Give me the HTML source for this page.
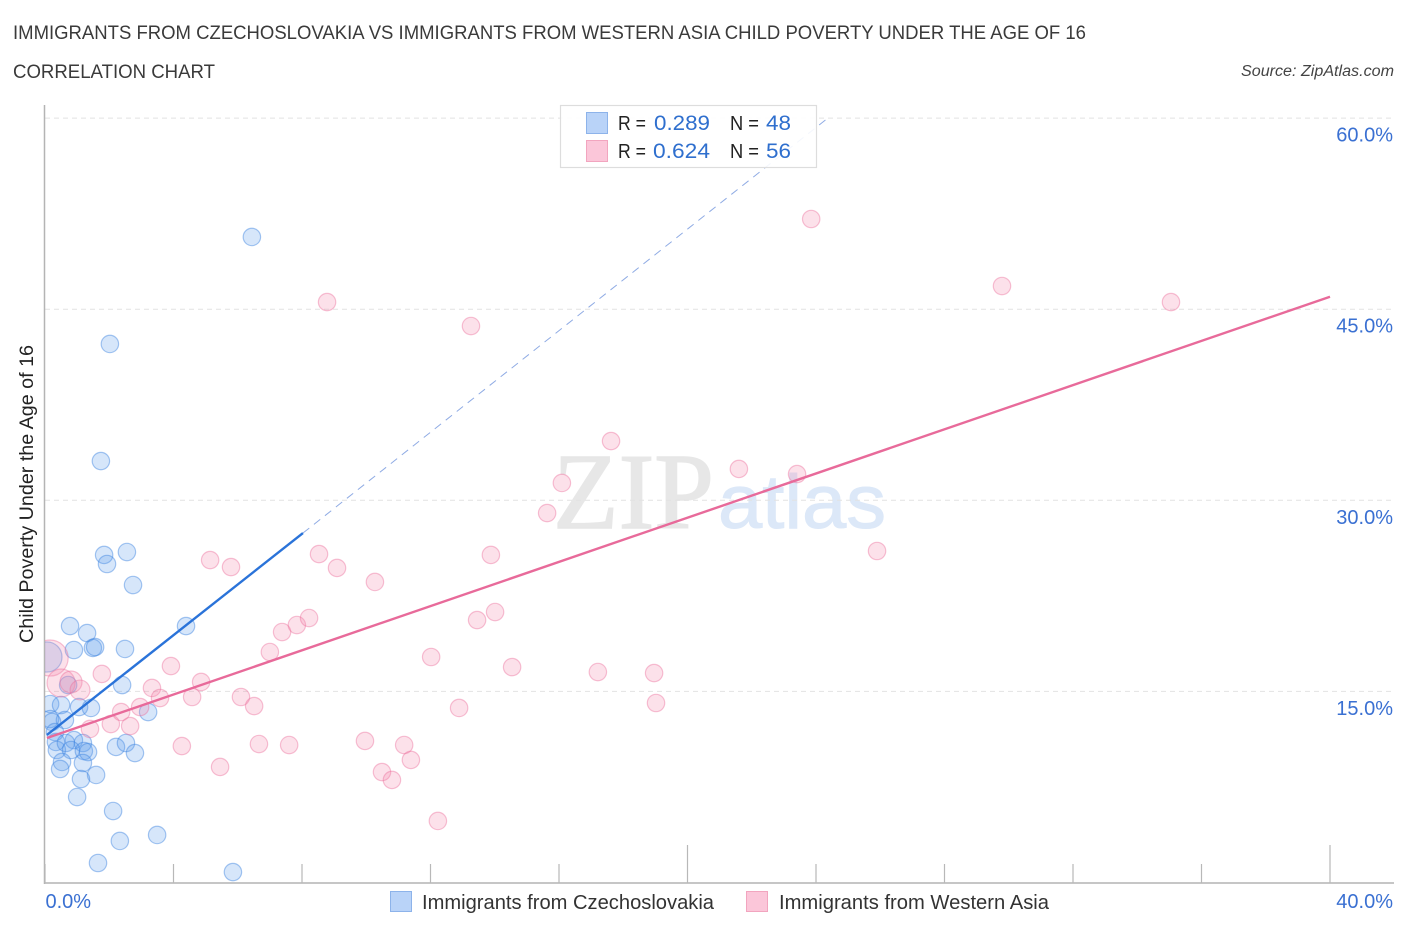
<!DOCTYPE html>
<html lang="en">
<head>
<meta charset="utf-8">
<title>Immigrants from Czechoslovakia vs Immigrants from Western Asia Child Poverty Under the Age of 16</title>
<style>
html,body{margin:0;padding:0;background:#fff;width:1406px;height:930px;overflow:hidden}
svg{display:block}
text{font-family:"Liberation Sans",sans-serif}
</style>
</head>
<body>
<svg id="chart" xmlns="http://www.w3.org/2000/svg" width="1406" height="930" viewBox="0 0 1406 930">
  <defs><clipPath id="plot-clip"><rect x="45" y="100" width="1360" height="783"/></clipPath></defs>
  <text x="13" y="39" font-size="19" fill="#3a3a3a" textLength="1073" lengthAdjust="spacingAndGlyphs">IMMIGRANTS FROM CZECHOSLOVAKIA VS IMMIGRANTS FROM WESTERN ASIA CHILD POVERTY UNDER THE AGE OF 16</text>
  <text x="13" y="78" font-size="19" fill="#3a3a3a" textLength="202" lengthAdjust="spacingAndGlyphs">CORRELATION CHART</text>
  <text x="1241" y="76" font-size="15.5" font-style="italic" fill="#444" textLength="153" lengthAdjust="spacingAndGlyphs">Source: ZipAtlas.com</text>
  <text transform="translate(33,494) rotate(-90)" font-size="19" fill="#222" text-anchor="middle" textLength="298" lengthAdjust="spacingAndGlyphs">Child Poverty Under the Age of 16</text>
  <g id="watermark">
    <text x="553" y="528" font-size="108" fill="#e7e7e7" stroke="#e7e7e7" stroke-width="1.5" style="font-family:'Liberation Serif',serif" textLength="161" lengthAdjust="spacingAndGlyphs">ZIP</text>
    <text x="718" y="528" font-size="76" fill="#dce8f8" stroke="#dce8f8" stroke-width="1" style="font-family:'Liberation Sans',sans-serif" textLength="168" lengthAdjust="spacingAndGlyphs">atlas</text>
  </g>
  <g id="grid"></g>
  <g id="axes"></g>
  <g id="points" clip-path="url(#plot-clip)"></g>
  <g id="trends"></g>
  <g>
    <rect x="560.5" y="105.5" width="256" height="62" fill="#fff" fill-opacity="0.9" stroke="#ddd" stroke-width="1.2"/>
    <rect x="586.5" y="112.5" width="21" height="21" fill="#b9d3f8" stroke="#8db3ea"/>
    <rect x="586.5" y="140.5" width="21" height="21" fill="#fbc6d9" stroke="#f2a5bf"/>
    <text x="618" y="130" font-size="20" fill="#222" textLength="28" lengthAdjust="spacingAndGlyphs">R =</text>
    <text x="654" y="130" font-size="21" fill="#2f6fce" textLength="56" lengthAdjust="spacingAndGlyphs">0.289</text>
    <text x="730" y="130" font-size="20" fill="#222" textLength="29" lengthAdjust="spacingAndGlyphs">N =</text>
    <text x="766" y="130" font-size="21" fill="#2f6fce" textLength="25" lengthAdjust="spacingAndGlyphs">48</text>
    <text x="618" y="158" font-size="20" fill="#222" textLength="28" lengthAdjust="spacingAndGlyphs">R =</text>
    <text x="653" y="158" font-size="21" fill="#2f6fce" textLength="57" lengthAdjust="spacingAndGlyphs">0.624</text>
    <text x="730" y="158" font-size="20" fill="#222" textLength="29" lengthAdjust="spacingAndGlyphs">N =</text>
    <text x="766" y="158" font-size="21" fill="#2f6fce" textLength="25" lengthAdjust="spacingAndGlyphs">56</text>
  </g>
  <g>
    <rect x="390.5" y="891.5" width="21" height="20" fill="#b9d3f8" stroke="#8db3ea"/>
    <text x="422" y="909" font-size="20" fill="#333" textLength="292" lengthAdjust="spacingAndGlyphs">Immigrants from Czechoslovakia</text>
    <rect x="746.5" y="891.5" width="21" height="20" fill="#fbc6d9" stroke="#f2a5bf"/>
    <text x="779" y="909" font-size="20" fill="#333" textLength="270" lengthAdjust="spacingAndGlyphs">Immigrants from Western Asia</text>
  </g>
</svg>
<script>
const xTicks = [0, 4, 8, 12, 16, 20, 24, 28, 32, 36, 40];
const xMajorTicks = [20, 40];
const xTickLabels = ['0.0%', '40.0%'];
const yTicks = [15, 30, 45, 60];
const yTickLabels = ['15.0%', '30.0%', '45.0%', '60.0%'];

const blueX = [6.44,2.02,1.74,1.84,2.55,1.93,2.74,0.78,1.31,0.90,1.49,1.56,2.49,4.39,0.06,0.72,2.40,0.16,0.50,1.06,1.43,3.21,0.16,0.62,0.22,0.31,0.34,0.37,0.90,0.65,1.18,0.81,1.21,1.34,0.53,0.47,1.18,1.59,1.12,1.00,2.12,2.33,3.49,1.65,5.85,2.21,2.52,2.80];
const blueY = [50.67,42.27,33.08,25.71,25.94,25.00,23.35,20.13,19.58,18.25,18.41,18.48,18.33,20.13,17.70,15.50,15.50,14.01,13.93,13.77,13.70,13.38,12.83,12.75,12.60,11.81,11.03,10.40,11.18,10.95,10.95,10.40,10.32,10.24,9.46,8.91,9.38,8.44,8.12,6.71,5.61,3.26,3.73,1.53,0.82,10.64,10.95,10.16];
const blueWeight = [1,1,1,1,1,1,1,1,1,1,1,1,1,1,3,1,1,1,1,1,1,1,1,1,1,1,1,1,1,1,1,1,1,1,1,1,1,1,1,1,1,1,1,1,1,1,1,1];

const pinkX = [23.85,8.78,13.26,29.79,35.05,17.62,21.60,23.41,16.09,15.63,25.90,13.88,8.53,5.14,5.79,9.09,10.27,14.01,13.45,12.02,14.54,17.21,18.96,19.02,12.89,9.96,11.18,11.39,10.49,10.80,12.23,0.16,0.50,0.81,1.09,1.77,3.92,3.33,4.86,3.58,4.58,6.10,6.51,2.96,2.37,2.05,2.65,1.40,4.26,5.45,6.66,7.60,7.00,7.38,7.84,8.22];
const pinkY = [52.08,45.56,43.68,46.82,45.56,34.65,32.46,32.06,31.36,29.00,26.02,25.71,25.78,25.31,24.76,24.69,23.59,21.23,20.60,17.70,16.91,16.52,16.44,14.09,13.70,11.11,10.79,9.62,8.67,8.05,4.83,17.62,15.66,15.74,15.11,16.37,16.99,15.27,15.74,14.48,14.56,14.56,13.85,13.77,13.38,12.44,12.28,12.05,10.71,9.07,10.87,10.79,18.09,19.66,20.21,20.76];
const pinkWeight = [1,1,1,1,1,1,1,1,1,1,1,1,1,1,1,1,1,1,1,1,1,1,1,1,1,1,1,1,1,1,1,4.3,2.6,1.6,1.3,1,1,1,1,1,1,1,1,1,1,1,1,1,1,1,1,1,1,1,1,1];

const blueTrendX = [0.06, 8.03];
const blueTrendY = [11.58, 27.43];
const blueForecastX = [8.03, 24.37];
const blueForecastY = [27.43, 60.0];
const pinkTrendX = [0.06, 40];
const pinkTrendY = [11.34, 45.98];

const NS = 'http://www.w3.org/2000/svg';
function xScale(v) { return 45 + v * 32.125; }
function yScale(v) { return 882.5 - v * 12.74; }
function make(parent, tag, attrs) {
  const el = document.createElementNS(NS, tag);
  for (const k in attrs) el.setAttribute(k, attrs[k]);
  parent.appendChild(el);
  return el;
}

const grid = document.getElementById('grid');
const axes = document.getElementById('axes');
const points = document.getElementById('points');
const trends = document.getElementById('trends');

yTicks.forEach(function (t, i) {
  const line = make(grid, 'line', { x1: 45, x2: 1394, y1: yScale(t), y2: yScale(t), stroke: '#e2e2e2', 'stroke-width': 1, 'stroke-dasharray': '5 4' });
  
  
  const label = make(axes, 'text', { x: 1393, y: yScale(t) + 23.5, 'font-size': 20, fill: '#3a70d2', 'text-anchor': 'end' });
  label.textContent = yTickLabels[i];
  
  
});

const yAxisLine = make(axes, 'line', { x1: 44.5, x2: 44.5, y1: 105, y2: 884, stroke: '#b4b4b4', 'stroke-width': 1.5 });


const xAxisLine = make(axes, 'line', { x1: 44, x2: 1394, y1: 883, y2: 883, stroke: '#b4b4b4', 'stroke-width': 1.5 });



xTicks.forEach(function (t) {
  const top = xMajorTicks.indexOf(t) >= 0 ? 845 : 864;
  const tick = make(axes, 'line', { x1: xScale(t), x2: xScale(t), y1: top, y2: 883, stroke: '#b8b8b8', 'stroke-width': 1.2 });
  
  
});

const xLabelLeft = make(axes, 'text', { x: xScale(xTicks[0]) + 0.5, y: 908, 'font-size': 20, fill: '#3a70d2' });
xLabelLeft.textContent = xTickLabels[0];


const xLabelRight = make(axes, 'text', { x: 1393, y: 908, 'font-size': 20, fill: '#3a70d2', 'text-anchor': 'end' });
xLabelRight.textContent = xTickLabels[1];



function radius(w) { return 8.7 * Math.sqrt(w); }

blueX.forEach(function (v, i) {
  const c = make(points, 'circle', { cx: xScale(v), cy: yScale(blueY[i]), r: radius(blueWeight[i]), fill: 'rgba(90,155,235,0.25)', stroke: 'rgba(60,130,225,0.45)', 'stroke-width': 1.2 });
  
  
});
pinkX.forEach(function (v, i) {
  const c = make(points, 'circle', { cx: xScale(v), cy: yScale(pinkY[i]), r: radius(pinkWeight[i]), fill: 'rgba(245,135,170,0.25)', stroke: 'rgba(235,110,155,0.42)', 'stroke-width': 1.2 });
  
  
});

const forecast = make(trends, 'line', { x1: xScale(blueForecastX[0]), y1: yScale(blueForecastY[0]), x2: xScale(blueForecastX[1]), y2: yScale(blueForecastY[1]), stroke: '#8fabe4', 'stroke-width': 1, 'stroke-dasharray': '8 6' });


const blueTrend = make(trends, 'line', { x1: xScale(blueTrendX[0]), y1: yScale(blueTrendY[0]), x2: xScale(blueTrendX[1]), y2: yScale(blueTrendY[1]), stroke: '#2a73d9', 'stroke-width': 2.4 });


const pinkTrend = make(trends, 'line', { x1: xScale(pinkTrendX[0]), y1: yScale(pinkTrendY[0]), x2: xScale(pinkTrendX[1]), y2: yScale(pinkTrendY[1]), stroke: '#e86a9a', 'stroke-width': 2.4 });


</script>
</body>
</html>
